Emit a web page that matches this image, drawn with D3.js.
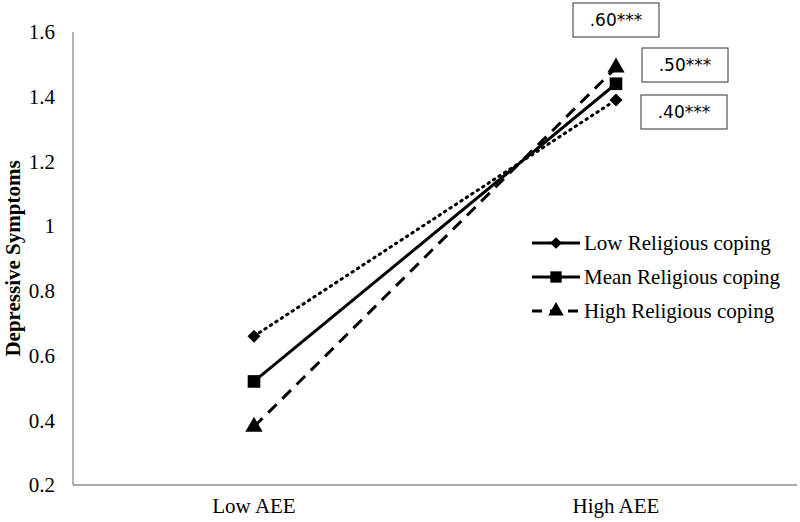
<!DOCTYPE html>
<html>
<head>
<meta charset="utf-8">
<script src="https://cdn.jsdelivr.net/npm/d3@7"></script>
<style>
body { margin: 0; background: #fff; }
</style>
</head>
<body>
<div id="vis"></div>
<script>
const categories = ['Low AEE', 'High AEE']
const seriesNames = ['Low Religious coping', 'Mean Religious coping', 'High Religious coping']
const lowCoping = [0.66, 1.39]
const meanCoping = [0.52, 1.44]
const highCoping = [0.38, 1.49]
const yTicks = [0.2, 0.4, 0.6, 0.8, 1, 1.2, 1.4, 1.6]
const slopeLabels = ['.60***', '.50***', '.40***']

const width = 800, height = 522
const margin = {left: 73, top: 32, right: 3, bottom: 37}

const svg = d3.select('#vis').append('svg')
	.attr('width', width)
	.attr('height', height)

const x = d3.scaleBand().domain(categories).range([margin.left, width - margin.right])
const y = d3.scaleLinear().domain([0.2, 1.6]).range([height - margin.bottom, margin.top])

// axes
svg.append('line')
	.attr('x1', margin.left).attr('x2', margin.left)
	.attr('y1', y(1.6)).attr('y2', y(0.2))
	.attr('stroke', '#8c8c8c').attr('stroke-width', 1.3)
svg.append('line')
	.attr('x1', margin.left).attr('x2', width - margin.right)
	.attr('y1', y(0.2)).attr('y2', y(0.2))
	.attr('stroke', '#8c8c8c').attr('stroke-width', 1.3)

svg.selectAll('.ytick')
	.data(yTicks).enter()
	.append('text')
	.attr('class', 'ytick')
	.attr('x', 55)
	.attr('y', d => y(d))
	.attr('dy', '0.35em')
	.attr('text-anchor', 'end')
	.attr('font-family', 'Liberation Serif')
	.attr('font-size', 21)
	.text(d => d)

svg.selectAll('.xtick')
	.data(categories).enter()
	.append('text')
	.attr('class', 'xtick')
	.attr('x', d => x(d) + x.bandwidth() / 2)
	.attr('y', 513)
	.attr('text-anchor', 'middle')
	.attr('font-family', 'Liberation Serif')
	.attr('font-size', 21)
	.text(d => d)

svg.append('text')
	.attr('transform', `translate(20, ${(y(0.2) + y(1.6)) / 2}) rotate(-90)`)
	.attr('text-anchor', 'middle')
	.attr('font-family', 'Liberation Serif')
	.attr('font-weight', 'bold')
	.attr('font-size', 21)
	.text('Depressive Symptoms')

// diamond = square turned 45 degrees
const series = [
	{name: seriesNames[0], values: lowCoping, dash: '1.5,5', cap: 'round', shape: d3.symbolSquare, rot: 45, size: 85},
	{name: seriesNames[1], values: meanCoping, dash: null, cap: 'butt', shape: d3.symbolSquare, rot: 0, size: 160},
	{name: seriesNames[2], values: highCoping, dash: '12,8', cap: 'butt', shape: d3.symbolTriangle, rot: 0, size: 130}
]

const line = d3.line()
	.x((d, i) => x(categories[i]) + x.bandwidth() / 2)
	.y(d => y(d))

series.forEach(s => {
	svg.append('path')
		.attr('d', line(s.values))
		.attr('fill', 'none')
		.attr('stroke', '#000')
		.attr('stroke-width', 3)
		.attr('stroke-linecap', s.cap)
		.attr('stroke-dasharray', s.dash)
	svg.selectAll(null)
		.data(s.values).enter()
		.append('path')
		.attr('d', d3.symbol().type(s.shape).size(s.size))
		.attr('transform', (d, i) => `translate(${x(categories[i]) + x.bandwidth() / 2},${y(d)}) rotate(${s.rot})`)
		.attr('fill', '#000')
})

// legend
const legend = svg.append('g').attr('transform', 'translate(532, 243)')
series.forEach((s, i) => {
	const g = legend.append('g').attr('transform', `translate(0, ${i * 34})`)
	g.append('line')
		.attr('x1', 0).attr('x2', 48)
		.attr('stroke', '#000').attr('stroke-width', 3)
		.attr('stroke-dasharray', i == 2 ? '10,8' : null)
	g.append('path')
		.attr('d', d3.symbol().type(s.shape).size(s.size * 0.8))
		.attr('transform', `translate(24,0) rotate(${s.rot})`)
	g.append('text')
		.attr('x', 52)
		.attr('dy', '0.35em')
		.attr('font-family', 'Liberation Serif')
		.attr('font-size', 21)
		.text(s.name)
})

// slope labels
const boxes = [[573, 3], [642, 48], [641, 95]]
boxes.forEach((b, i) => {
	svg.append('rect')
		.attr('x', b[0]).attr('y', b[1])
		.attr('width', 86).attr('height', 34)
		.attr('fill', '#fff').attr('stroke', '#333').attr('stroke-width', 1)
	svg.append('text')
		.attr('x', b[0] + 43).attr('y', b[1] + 17)
		.attr('dy', '0.35em')
		.attr('text-anchor', 'middle')
		.attr('font-family', 'DejaVu Sans')
		.attr('font-size', 17)
		.text(slopeLabels[i])
})
</script>
</body>
</html>
